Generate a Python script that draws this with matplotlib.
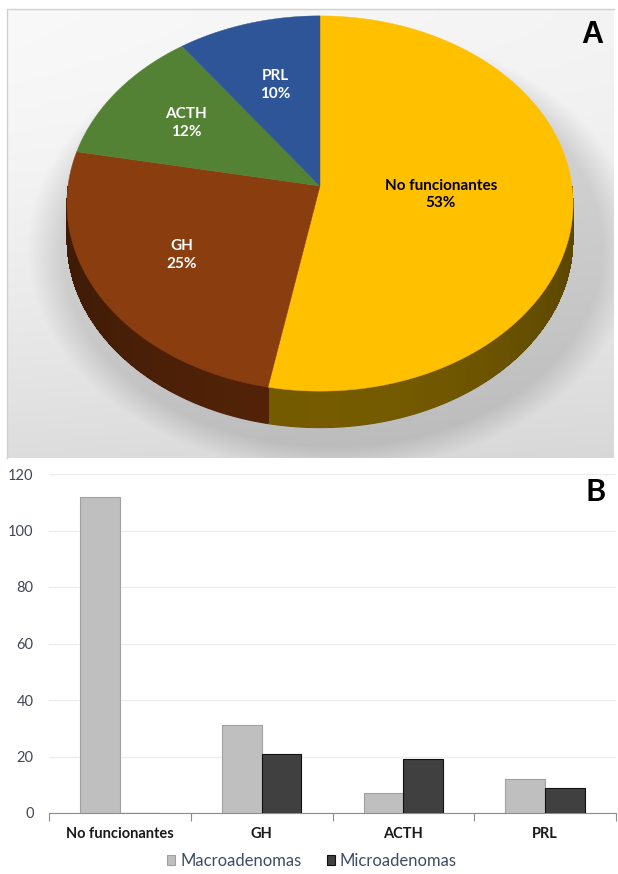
import numpy as np
import matplotlib
matplotlib.use("Agg")
import matplotlib.pyplot as plt
from matplotlib.colors import to_rgb

# panel A: share of each adenoma type (%)
pie_labels = ["No funcionantes", "GH", "ACTH", "PRL"]
pie_share = [53, 25, 12, 10]
pie_top = ["#FFC000", "#8A3E10", "#548235", "#2E5597"]
pie_side = ["#705700", "#4E2107", "#2F4A1D", "#1A3158"]
pie_text = ["black", "white", "white", "white"]
label_r = [0.48, 0.64, 0.65, 0.6]

# panel B: counts by size
categories = ["No funcionantes", "GH", "ACTH", "PRL"]
macro = [112, 31, 7, 12]
micro = [0, 21, 19, 9]

W, H = 618, 874
fig = plt.figure(figsize=(W / 100, H / 100), dpi=100)
fig.patch.set_facecolor("white")

bg = fig.add_axes([0, 0, 1, 1])
bg.set_xlim(0, W)
bg.set_ylim(H, 0)
bg.axis("off")

# pie geometry (pixels): centre, half width, perspective
cx, cy, RX, S, P, DEPTH = 320, 186, 252, 186, -0.0933, 37


def proj(r, th):
    X, Y = r * np.cos(th), r * np.sin(th)
    d = 1 - P * Y
    return cx + RX * X / d, cy - S * Y / d


# grey gradient box with a soft shadow under the pie
x0, x1, y0, y1 = 7, 614, 9, 458
yy, xx = np.mgrid[y0:y1, x0:x1].astype(float)
val = 0.975 - 0.11 * ((yy - y0) / (y1 - y0)) ** 1.6 - 0.02 * ((xx - x0) / (x1 - x0))
rr = np.sqrt(((xx - cx - 12) / 270) ** 2 + ((yy - cy - 62) / 198) ** 2)
val -= 0.12 * np.clip(1 - (rr - 1) / 0.13, 0, 1)
bg.imshow(np.dstack([val] * 3), extent=[x0, x1, y1, y0], aspect="auto",
          interpolation="bilinear", zorder=0)
bg.plot([x0, x0, x1], [y1, y0, y0], color="#d0d0d0", lw=1, zorder=1)

# slice angles, clockwise from 12 o'clock
fr = np.cumsum([0] + pie_share) / sum(pie_share)
ang = np.pi / 2 - 2 * np.pi * fr

# side of the cylinder (front half only), darker towards the edges
for i in range(len(pie_share)):
    a0, a1 = ang[i], ang[i + 1]
    lo, hi = max(a1, -np.pi), min(a0, 0)
    if hi <= lo:
        continue
    t = np.linspace(hi, lo, 90)
    base = np.array(to_rgb(pie_side[i]))
    xs, ys = proj(1, t)
    bg.fill(np.r_[xs, xs[::-1]], np.r_[ys, ys[::-1] + DEPTH],
            color=base * 0.9, lw=0, zorder=2)
    for k in range(len(t) - 1):
        f = 1.05 - 0.25 * abs(np.cos(t[k:k + 2].mean())) ** 2
        c = np.clip(base * f, 0, 1)
        bg.fill([xs[k], xs[k + 1], xs[k + 1], xs[k]],
                [ys[k], ys[k + 1], ys[k + 1] + DEPTH - 1, ys[k] + DEPTH - 1],
                color=c, lw=0, antialiased=False, zorder=2.1)

# top face
for i in range(len(pie_share)):
    t = np.linspace(ang[i], ang[i + 1], 120)
    xs, ys = proj(1, t)
    bg.fill(np.r_[cx, xs], np.r_[cy, ys], color=pie_top[i], lw=0.3,
            ec=pie_top[i], zorder=3)
    mid = (ang[i] + ang[i + 1]) / 2
    lx, ly = proj(label_r[i], mid)
    bg.text(lx, ly, f"{pie_labels[i]}\n{pie_share[i]}%", ha="center",
            va="center", color=pie_text[i], fontsize=11, family="Lato",
            weight="bold", linespacing=1.35, zorder=4)

fig.text(592 / W, 1 - 35 / H, "A", fontsize=22, weight="bold",
         family="Liberation Sans", ha="center", va="center")

# panel B
ax = fig.add_axes([49 / W, 1 - 813 / H, (616 - 49) / W, (813 - 474) / H])
ax.patch.set_alpha(0)
x = np.arange(len(categories))
w = 0.28
ax.bar(x - w / 2, macro, w, color="#BFBFBF", edgecolor="#A0A0A0", lw=0.8,
       label="Macroadenomas", zorder=3)
ax.bar(x + w / 2, micro, w, color="#404040", edgecolor="#111111", lw=0.8,
       label="Microadenomas", zorder=3)
ax.set_xlim(-0.5, len(categories) - 0.5)
ax.set_ylim(0, 120)
ax.set_yticks(range(0, 121, 20))
ax.yaxis.grid(True, color="#EDEDED", lw=1)
ax.set_axisbelow(True)
for s in ["left", "right", "top"]:
    ax.spines[s].set_visible(False)
ax.spines["bottom"].set_color("#8C8C8C")
ax.set_xticks(np.arange(-0.5, len(categories)), labels=[""] * (len(categories) + 1))
ax.set_xticks(x, labels=categories, minor=True)
ax.tick_params(axis="x", which="major", direction="out", length=6, color="#8C8C8C")
ax.tick_params(axis="x", which="minor", length=0, pad=10)
ax.tick_params(axis="y", length=0, pad=11, labelcolor="#404855")
for lab in ax.get_yticklabels():
    lab.set_fontfamily("Lato")
    lab.set_fontsize(10.5)
for lab in ax.get_xticklabels(minor=True):
    lab.set_fontfamily("Lato")
    lab.set_fontsize(10.5)
    lab.set_fontweight("bold")
    lab.set_color("#1a1a1a")
leg = ax.legend(loc="center", bbox_to_anchor=(312 / W, 1 - 861 / H),
                bbox_transform=fig.transFigure, ncol=2, frameon=False,
                handlelength=0.5, handleheight=0.5, handletextpad=0.3,
                columnspacing=1.5, prop={"family": "Lato", "size": 12})
for t in leg.get_texts():
    t.set_color("#3E4C66")
fig.text(596 / W, 1 - 492 / H, "B", fontsize=22, weight="bold",
         family="Lato", ha="center", va="center")

fig.savefig("out.png", dpi=100)
